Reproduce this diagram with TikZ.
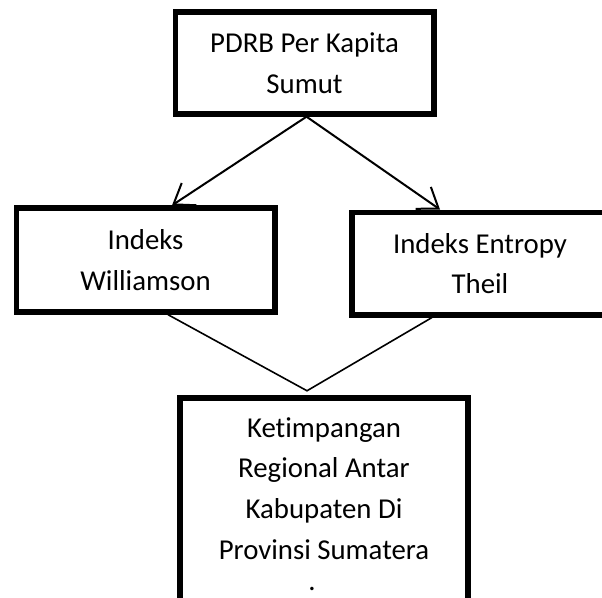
\documentclass[tikz,border=0pt]{standalone}
\usepackage{fontspec}
\setmainfont{Carlito}[Ligatures=NoCommon]
\usetikzlibrary{arrows.meta}

\begin{document}
\begin{tikzpicture}[x=0.75pt, y=-0.75pt,
        txt/.style={font=\fontsize{21.6}{30.5}\selectfont, inner sep=0pt},
        box/.style={txt, draw, line width=4pt, align=center},
        arr/.style={line width=1.5pt, -{Straight Barb[length=14pt,width=20pt]}}]
    \useasboundingbox (0,0) rectangle (602,597);
    \clip (0,0) rectangle (602,597);
    \node[box, minimum width=194pt, minimum height=76.5pt] (pdrb) at (304.5,63) {PDRB Per Kapita\\Sumut};
    \node[box, minimum width=194pt, minimum height=78pt] (will) at (145.5,260) {Indeks\\Williamson};
    \node[box, minimum width=192pt, minimum height=77pt] (theil) at (480,263.5) {Indeks Entropy\\Theil};
    \node[box, minimum width=216pt, inner ysep=14.5pt, text depth=40pt, anchor=north] (ket) at (324,395.3)
        {Ketimpangan\\Regional Antar\\Kabupaten Di\\Provinsi Sumatera};
    \node[txt] (cut) at (312,589) {.};
    \coordinate (meet) at ([xshift=-12.75pt,yshift=3.4pt]ket.north);
    \draw[arr] ([xshift=1.5pt]pdrb.south) -- ([xshift=19.9pt]will.north);
    \draw[arr] ([xshift=1.5pt]pdrb.south) -- ([xshift=-30pt]theil.north);
    \draw[line width=1.2pt] ([xshift=16.9pt]will.south) -- (meet) -- ([xshift=-36pt]theil.south);
\end{tikzpicture}
\end{document}
